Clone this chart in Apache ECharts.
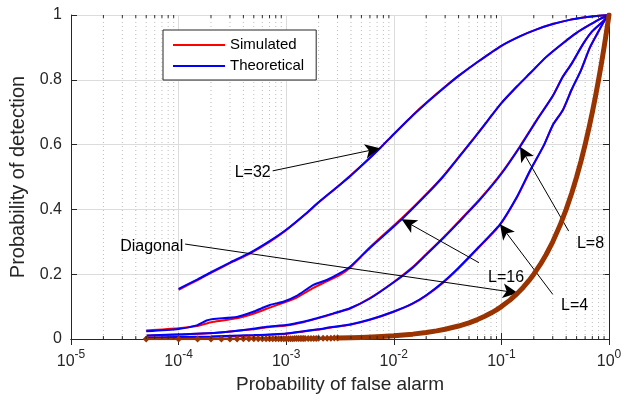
<!DOCTYPE html>
<html><head><meta charset="utf-8">
<script src="https://cdn.jsdelivr.net/npm/echarts@6/dist/echarts.min.js"></script>
<style>html,body{margin:0;padding:0;background:#fff}#c{width:638px;height:400px}</style>
</head><body><div id="c"></div>
<script>
// ---- data ----
const xTickValues = [1e-5, 1e-4, 1e-3, 1e-2, 1e-1, 1];
const yTickValues = [0, 0.2, 0.4, 0.6, 0.8, 1];

const pfa32 = [1e-4,1.5e-4,2e-4,3e-4,4.5e-4,7e-4,1e-3,1.5e-3,2e-3,3e-3,4e-3,5.5e-3,7.45e-3,1e-2,1.5e-2,2e-2,3e-2,4e-2,6e-2,0.1,0.15,0.21,0.3,0.43,0.6,0.8,1];
const theo32 = [0.155,0.184,0.206,0.236,0.264,0.302,0.337,0.385,0.422,0.47,0.505,0.547,0.589,0.632,0.69,0.728,0.778,0.812,0.855,0.905,0.935,0.955,0.972,0.985,0.993,0.998,1];
const sim32  = [0.152,0.182,0.204,0.234,0.262,0.300,0.336,0.384,0.421,0.470,0.506,0.548,0.590,0.633,0.691,0.729,0.779,0.812,0.855,0.905,0.935,0.955,0.972,0.985,0.993,0.998,1];

const pfa16 = [5e-5,1e-4,1.47e-4,1.82e-4,2.1e-4,3.47e-4,4.94e-4,7.06e-4,9.4e-4,1.25e-3,1.79e-3,2.38e-3,3.16e-3,3.92e-3,6e-3,1.18e-2,2e-2,2.86e-2,4e-2,5.44e-2,7.5e-2,0.1,0.14,0.1845,0.26,0.373,0.5,0.665,0.83,1];
const theo16 = [0.024,0.031,0.042,0.057,0.062,0.068,0.084,0.105,0.115,0.133,0.167,0.182,0.203,0.223,0.281,0.369,0.445,0.50,0.56,0.615,0.675,0.728,0.78,0.82,0.87,0.913,0.945,0.97,0.988,1];
const sim16  = [0.026,0.033,0.040,0.048,0.053,0.064,0.078,0.097,0.112,0.128,0.158,0.178,0.198,0.220,0.283,0.372,0.447,0.502,0.561,0.616,0.675,0.728,0.78,0.82,0.87,0.913,0.945,0.97,0.988,1];

const pfa8 = [5.06e-5,1.11e-4,2.26e-4,4.61e-4,6.59e-4,1e-3,1.44e-3,1.92e-3,2.74e-3,3.92e-3,6e-3,1e-2,1.5e-2,2e-2,2.86e-2,4e-2,6.32e-2,0.1,0.149,0.214,0.3,0.373,0.45,0.573,0.7,0.879,1];
const theo8 = [0.011,0.015,0.019,0.030,0.038,0.043,0.053,0.064,0.079,0.095,0.125,0.175,0.22,0.26,0.31,0.36,0.43,0.51,0.5935,0.676,0.75,0.81,0.85,0.91,0.95,0.98,1];
const sim8  = [0.010,0.014,0.019,0.029,0.036,0.042,0.052,0.063,0.078,0.094,0.126,0.176,0.222,0.262,0.312,0.362,0.432,0.512,0.595,0.677,0.75,0.81,0.85,0.91,0.95,0.98,1];

const pfa4 = [5.06e-5,1e-4,2e-4,5e-4,1e-3,2e-3,2.55e-3,3.92e-3,6e-3,1e-2,1.5e-2,2e-2,2.86e-2,4e-2,6e-2,0.097,0.14,0.1845,0.25,0.3,0.373,0.45,0.55,0.665,0.8,0.9,1];
const theo4 = [0.004,0.006,0.008,0.012,0.017,0.030,0.036,0.045,0.06,0.085,0.11,0.135,0.175,0.22,0.28,0.354,0.44,0.52,0.6,0.66,0.707,0.77,0.83,0.90,0.95,0.98,1];
const sim4  = [0.003,0.005,0.007,0.011,0.016,0.029,0.035,0.044,0.059,0.084,0.109,0.134,0.173,0.218,0.278,0.352,0.438,0.518,0.6,0.66,0.707,0.77,0.83,0.90,0.95,0.98,1];

// diagonal Pd = Pfa: marker samples and the continuing line
const diagMarkPfa = [0.00005,0.0001,0.00015,0.0002,0.00025,0.0003,0.00035,0.0004,0.00045,0.0005,0.00055,0.0006,0.00065,0.0007,0.00075,0.0008,0.00085,0.0009,0.00095,0.001,0.00105,0.0011,0.00115,0.0012,0.00125,0.0013,0.00135,0.0014,0.00145,0.0015,0.0016,0.0017,0.0018,0.0019,0.002,0.0022,0.0024,0.0026,0.0028,0.003];
const diagLinePfa = [0.003,0.004,0.005,0.007,0.01,0.015,0.02,0.025,0.03,0.04,0.05,0.06,0.07,0.08,0.09,0.1,0.12,0.14,0.16,0.18,0.2,0.23,0.26,0.3,0.35,0.4,0.45,0.5,0.55,0.6,0.65,0.7,0.75,0.8,0.85,0.9,0.95,1];

// annotations: [label, labelPos, labelSide, arrowStart, arrowTip]
const annotations = [
  ['L=32',     [7.33e-4, 0.5145], 'left',  [7.49e-4, 0.519], [7.45e-3, 0.5886]],
  ['Diagonal', [1.13e-4, 0.285],  'left',  [1.15e-4, 0.293], [0.142, 0.142]],
  ['L=16',     [0.0735, 0.191],   'right', [0.0619, 0.2355], [0.01183, 0.3694]],
  ['L=8',      [0.493, 0.293],    'right', [0.422, 0.333],   [0.149, 0.5935]],
  ['L=4',      [0.3504, 0.102],   'right', [0.2999, 0.138],  [0.097, 0.354]]
];

// ---- chart ----
const FONT = '"Liberation Sans", Arial, Helvetica, sans-serif';
const AX = '#262626';
const pairs = (xs, ys) => xs.map((x, i) => [x, ys[i]]);

const minorVals = [];
for (let e = -5; e < 0; e++) for (let m = 2; m <= 9; m++) minorVals.push(+(m * Math.pow(10, e)).toPrecision(3));

const series = [];
function curve(name, color, xs, ys, z) {
  series.push({ name, type: 'line', data: pairs(xs, ys), symbol: 'none', smooth: 0.2, z,
    lineStyle: { color, width: 2 }, itemStyle: { color }, silent: true, animation: false });
}
[[pfa32, sim32, theo32], [pfa16, sim16, theo16], [pfa8, sim8, theo8], [pfa4, sim4, theo4]].forEach(([x, s, t]) => {
  curve('Simulated', '#ff0000', x, s, 3);
  curve('Theoretical', '#0000ff', x, t, 4);
});

series.push({ type: 'line', data: diagLinePfa.map(p => [p, p]), symbol: 'none', z: 5,
  lineStyle: { color: '#993300', width: 5, cap: 'round', join: 'round' }, silent: true, animation: false });
series.push({ type: 'line', data: diagMarkPfa.map(p => [p, p]), symbol: 'diamond', symbolSize: 7,
  showSymbol: true, showAllSymbol: true, z: 5,
  lineStyle: { color: '#993300', width: 2.5 }, itemStyle: { color: '#993300' }, silent: true, animation: false });

// minor dotted grid and minor ticks drawn on the log axis
const tickLen = 0.009;
series.push({ type: 'line', silent: true, animation: false, z: 1, symbol: 'none', connectNulls: false,
  data: minorVals.flatMap(v => [[v, 0], [v, 1], [v, '-']]),
  lineStyle: { color: '#bcbcbc', type: [1, 3], width: 1 } });
series.push({ type: 'line', silent: true, animation: false, z: 6, symbol: 'none', connectNulls: false,
  data: minorVals.flatMap(v => [[v, 0], [v, tickLen], [v, '-'], [v, 1], [v, 1 - tickLen], [v, '-']]),
  lineStyle: { color: AX, width: 1 } });

// annotations
series.push({ type: 'line', data: [], silent: true, animation: false, z: 10,
  markLine: { silent: true, symbol: ['none', 'arrow'], symbolSize: [11, 15], animation: false, label: { show: false },
    lineStyle: { color: '#000', type: 'solid', width: 1 }, itemStyle: { color: '#000' },
    data: annotations.map(a => [{ coord: a[3] }, { coord: a[4] }]) },
  markPoint: { silent: true, animation: false, symbol: 'circle', symbolSize: 0,
    data: annotations.map(a => ({ coord: a[1], value: a[0],
      label: { show: true, position: a[2], distance: 1, formatter: a[0], color: '#000', fontSize: 16, fontFamily: FONT } })) } });

const xFmt = v => {
  const e = Math.round(Math.log10(v));
  return xTickValues.some(t => Math.abs(Math.log10(t) - e) < 1e-6) ? '{b|10}{s|' + e + '}' : '';
};

const option = {
  backgroundColor: '#fff',
  animation: false,
  grid: { left: 71, right: 29, top: 15, bottom: 61, containLabel: false },
  legend: {
    data: [{ name: 'Simulated', icon: 'rect' }, { name: 'Theoretical', icon: 'rect' }],
    orient: 'vertical', left: 163, top: 30,
    itemWidth: 52, itemHeight: 2, itemGap: 5, padding: [7, 12, 6, 10],
    backgroundColor: '#fff', borderColor: AX, borderWidth: 1, borderRadius: 0,
    textStyle: { fontSize: 15, lineHeight: 16, color: '#000', fontFamily: FONT }, selectedMode: false
  },
  xAxis: [
    { type: 'log', logBase: 10, min: 1e-5, max: 1, position: 'bottom',
      name: 'Probability of false alarm', nameLocation: 'middle', nameGap: 33,
      nameTextStyle: { fontSize: 19, color: AX, fontFamily: FONT },
      axisLine: { show: true, lineStyle: { color: AX, width: 1 } },
      axisTick: { show: true, inside: true, length: 6, lineStyle: { color: AX } },
      axisLabel: { margin: 7, formatter: xFmt, color: AX, fontFamily: FONT,
        rich: { b: { fontSize: 16, color: AX, fontFamily: FONT, padding: [8, 0, 0, 0] },
                s: { fontSize: 12, color: AX, fontFamily: FONT, padding: [0, 0, 6, 0] } } },
      splitLine: { show: true, lineStyle: { color: '#dcdcdc', width: 1 } } },
    { type: 'log', logBase: 10, min: 1e-5, max: 1, position: 'top',
      axisLine: { show: true, lineStyle: { color: AX, width: 1 } },
      axisTick: { show: true, inside: true, length: 6, lineStyle: { color: AX } },
      axisLabel: { show: false }, splitLine: { show: false } }
  ],
  yAxis: [
    { type: 'value', min: 0, max: 1, interval: 0.2, position: 'left',
      name: 'Probability of detection', nameLocation: 'middle', nameGap: 41,
      nameTextStyle: { fontSize: 20, color: AX, fontFamily: FONT },
      axisLine: { show: true, lineStyle: { color: AX, width: 1 } },
      axisTick: { show: true, inside: true, length: 6, lineStyle: { color: AX } },
      axisLabel: { margin: 9, fontSize: 16, color: AX, fontFamily: FONT,
        formatter: v => yTickValues.includes(+v.toFixed(1)) ? String(+v.toFixed(1)) : '' },
      splitLine: { show: true, lineStyle: { color: '#dcdcdc', width: 1 } } },
    { type: 'value', min: 0, max: 1, interval: 0.2, position: 'right',
      axisLine: { show: true, lineStyle: { color: AX, width: 1 } },
      axisTick: { show: true, inside: true, length: 6, lineStyle: { color: AX } },
      axisLabel: { show: false }, splitLine: { show: false } }
  ],
  series
};
const chart = echarts.init(document.getElementById('c'), null, { renderer: 'canvas' });
chart.setOption(option);
</script></body></html>
